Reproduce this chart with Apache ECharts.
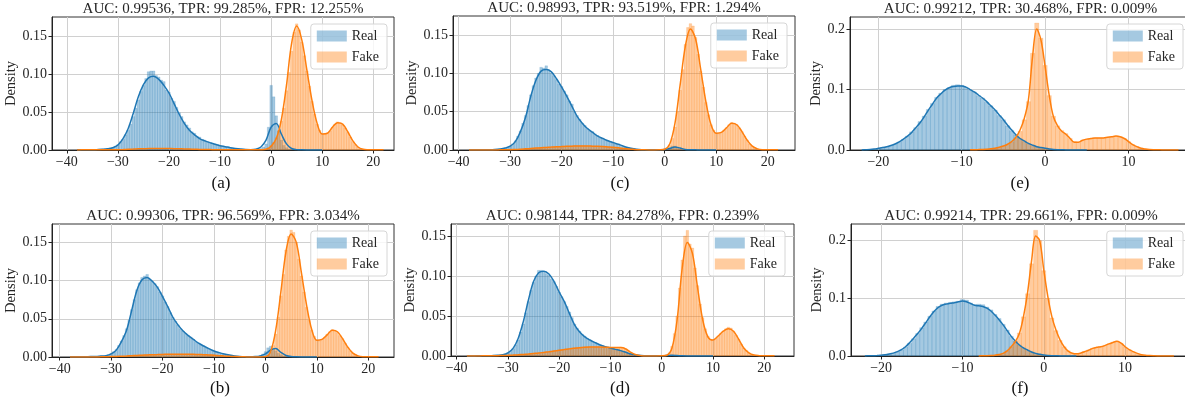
<!DOCTYPE html>
<html><head><meta charset="utf-8">
<script src="https://cdn.jsdelivr.net/npm/echarts@6/dist/echarts.min.js"></script>
<style>html,body{margin:0;padding:0;background:#fff}#c{width:1185px;height:402px}</style>
</head><body><div id="c"></div><script>
// ---------- text ----------
const titles = ['AUC: 0.99536, TPR: 99.285%, FPR: 12.255%','AUC: 0.99306, TPR: 96.569%, FPR: 3.034%','AUC: 0.98993, TPR: 93.519%, FPR: 1.294%','AUC: 0.98144, TPR: 84.278%, FPR: 0.239%','AUC: 0.99212, TPR: 30.468%, FPR: 0.009%','AUC: 0.99214, TPR: 29.661%, FPR: 0.009%'];
const captions = ['(a)','(b)','(c)','(d)','(e)','(f)'];
const seriesNames = ['Real','Fake'];
const xTicksWide = [-40,-30,-20,-10,0,10,20];
const xTicksNarrow = [-20,-10,0,10];
const yTicksFine = [0,0.05,0.10,0.15];
const yTicksCoarse = [0,0.1,0.2];
const BIN = 0.5;

// ---------- (a) ----------
const aRealHistStart = -34;
const aRealHist = [0.0005,0.001,0.0012,0.0015,0.002,0.0025,0.003,0.005,0.007,0.011,
 0.014,0.02,0.026,0.034,0.044,0.055,0.066,0.077,0.085,0.094,
 0.103,0.104,0.104,0.098,0.096,0.092,0.09,0.079,0.076,0.068,
 0.064,0.056,0.049,0.044,0.037,0.033,0.029,0.024,0.022,0.018,
 0.017,0.014,0.013,0.011,0.01,0.009,0.008,0.007,0.006,0.005,
 0.0045,0.004,0.003,0.0025,0.002,0.0015,0.001,0.0008,0.0005,0.0003,
 0.0002,0.0002,0.0004,0.0008,0.002,0.004,0.008,0.03,0.085,0.07,
 0.045,0.025,0.013,0.006,0.003,0.001,0.0005];
const aFakeHistStart = -1.5;
const aFakeHist = [0.0005,0.001,0.003,0.006,0.01,0.016,0.026,0.038,0.055,0.078,
 0.102,0.13,0.155,0.166,0.158,0.142,0.124,0.104,0.084,0.064,
 0.047,0.034,0.026,0.021,0.02,0.022,0.025,0.03,0.034,0.037,
 0.036,0.033,0.029,0.023,0.017,0.011,0.007,0.004,0.002,0.001,0.0005];
const aRealKdeStart = -38;
const aRealKde = [0.0002,0.0002,0.0003,0.0004,0.0006,0.0009,0.0015,0.003,0.0066,0.015,
 0.028,0.048,0.07,0.086,0.095,0.097,0.093,0.085,0.075,0.061,
 0.047,0.035,0.026,0.02,0.015,0.012,0.0097,0.0075,0.0057,0.0044,
 0.003,0.002,0.0012,0.0006,0.0004,0.001,0.004,0.013,0.03,0.035,
 0.021,0.008,0.002,0.0005,0.0002,0.0001,0.0001,0.0001,0.0001];
const aFakeKdeStart = -38;
const aFakeKde = [0.0001,0.0002,0.0002,0.0002,0.0002,0.0002,0.0002,0.0002,0.0004,0.0006,
 0.0009,0.0012,0.0015,0.0017,0.0019,0.002,0.002,0.002,0.0019,0.0018,
 0.0016,0.0014,0.0012,0.001,0.0008,0.0006,0.0005,0.0004,0.0003,0.0002,
 0.0002,0.0002,0.0002,0.0002,0.0002,0.0002,0.0003,0.001,0.005,0.015,
 0.04,0.085,0.14,0.163,0.145,0.105,0.065,0.035,0.021,0.022,
 0.03,0.036,0.034,0.024,0.012,0.004,0.001,0.0004,0.0003,0.0002,0.0002];

// ---------- (b) ----------
const bRealHistStart = -32;
const bRealHist = [0.0008,0.0012,0.002,0.003,0.0045,0.007,0.01,0.015,0.021,0.028,
 0.037,0.048,0.062,0.075,0.088,0.097,0.104,0.106,0.108,0.102,
 0.099,0.096,0.092,0.085,0.08,0.072,0.066,0.058,0.052,0.047,
 0.042,0.037,0.034,0.031,0.028,0.026,0.023,0.02,0.018,0.016,
 0.0145,0.012,0.011,0.009,0.008,0.0065,0.0055,0.0045,0.0038,0.003,
 0.0024,0.0018,0.0013,0.0009,0.0006,0.0004,0.0003,0.0002,0.0002,0.0003,
 0.0005,0.001,0.002,0.004,0.007,0.012,0.014,0.011,0.008,0.005,
 0.003,0.0015,0.0008];
const bFakeHistLowStart = -28;
const bFakeHistLow = [0.0008,0.001,0.0012,0.0014,0.0016,0.0018,0.002,0.0022,0.0024,0.0026,
 0.0028,0.003,0.0031,0.0032,0.0033,0.0034,0.0035,0.0036,0.0036,0.0037,
 0.0037,0.0038,0.0038,0.0038,0.0038,0.0037,0.0037,0.0036,0.0035,0.0034,
 0.0033,0.0031,0.003,0.0028,0.0026,0.0024,0.0022,0.002,0.0017,0.0015,
 0.0012,0.001,0.0008,0.0006,0.0004];
const bFakeHistStart = -0.5;
const bFakeHist = [0.0002,0.0006,0.002,0.006,0.015,0.03,0.052,0.08,0.108,0.14,
 0.158,0.166,0.163,0.15,0.128,0.106,0.085,0.065,0.048,0.035,
 0.027,0.022,0.021,0.023,0.026,0.03,0.033,0.036,0.035,0.032,
 0.028,0.024,0.018,0.013,0.008,0.005,0.003,0.0015,0.0008,0.0004];
const bRealKdeStart = -38;
const bRealKde = [0.0002,0.0002,0.0002,0.0003,0.0005,0.0008,0.0013,0.0018,0.004,0.009,
 0.02,0.035,0.061,0.087,0.101,0.104,0.099,0.091,0.079,0.066,
 0.052,0.042,0.034,0.028,0.023,0.018,0.0144,0.011,0.0079,0.0057,
 0.0039,0.0025,0.0014,0.0007,0.0003,0.0002,0.0005,0.0015,0.004,0.009,
 0.011,0.006,0.002,0.0005,0.0002,0.0001,0.0001,0.0001,0.0001];
const bFakeKdeStart = -38;
const bFakeKde = [0.0001,0.0001,0.0001,0.0001,0.0001,0.0001,0.0002,0.0003,0.0005,0.0007,
 0.001,0.0013,0.0017,0.002,0.0024,0.0027,0.003,0.0032,0.0034,0.0035,
 0.0036,0.0037,0.0037,0.0036,0.0035,0.0033,0.003,0.0027,0.0023,0.0018,
 0.0013,0.0009,0.0005,0.0003,0.0002,0.0001,0.0001,0.0001,0.0005,0.007,
 0.035,0.085,0.138,0.161,0.15,0.11,0.068,0.036,0.022,0.023,
 0.029,0.035,0.033,0.024,0.013,0.005,0.0015,0.0004,0.0002,0.0002,0.0002];

// ---------- (c) ----------
const cRealHistStart = -32.5;
const cRealHist = [0.0005,0.001,0.0015,0.002,0.003,0.005,0.008,0.012,0.018,0.025,
 0.035,0.045,0.058,0.072,0.084,0.094,0.1,0.108,0.107,0.11,
 0.104,0.1,0.097,0.092,0.086,0.083,0.077,0.072,0.064,0.06,
 0.05,0.045,0.04,0.035,0.032,0.028,0.025,0.024,0.021,0.019,
 0.016,0.015,0.013,0.012,0.011,0.0095,0.008,0.007,0.006,0.005,
 0.004,0.003,0.002,0.0015,0.001,0.0006,0.0003,0.0002,0.0001,0.0001,
 0.0001,0.0001,0.0001,0.0001,0.0001,0.0002,0.001,0.003,0.005,0.005,
 0.003,0.0015,0.0005];
const cFakeHistLowStart = -28;
const cFakeHistLow = [0.001,0.0012,0.0015,0.0018,0.002,0.0023,0.0026,0.003,0.003,0.0033,
 0.0036,0.0038,0.004,0.0042,0.0044,0.0046,0.0048,0.005,0.005,0.0052,
 0.0052,0.0054,0.0054,0.0055,0.0055,0.0054,0.0053,0.0052,0.005,0.0049,
 0.0047,0.0045,0.0043,0.004,0.0038,0.0035,0.0032,0.0028,0.0025,0.0022,
 0.0018,0.0014,0.001,0.0008,0.0005,0.0003,0.0002];
const cFakeHistStart = -0.5;
const cFakeHist = [0.0002,0.0005,0.002,0.006,0.015,0.03,0.05,0.078,0.105,0.138,
 0.16,0.165,0.162,0.147,0.125,0.103,0.082,0.062,0.046,0.033,
 0.026,0.022,0.021,0.023,0.026,0.029,0.033,0.036,0.035,0.033,
 0.029,0.024,0.018,0.013,0.008,0.005,0.003,0.0015,0.0008,0.0004];
const cRealKdeStart = -38;
const cRealKde = [0.0002,0.0002,0.0002,0.0003,0.0004,0.0007,0.0013,0.0025,0.005,0.011,
 0.024,0.043,0.07,0.091,0.103,0.105,0.102,0.093,0.082,0.07,
 0.057,0.044,0.035,0.028,0.023,0.018,0.015,0.012,0.0096,0.0074,
 0.005,0.003,0.0017,0.0008,0.0003,0.0002,0.0002,0.0003,0.0008,0.002,
 0.004,0.0025,0.0008,0.0003,0.0002,0.0001,0.0001,0.0001,0.0001];
const cFakeKdeStart = -38;
const cFakeKde = [0.0001,0.0001,0.0001,0.0001,0.0001,0.0001,0.0002,0.0003,0.0004,0.0007,
 0.001,0.0015,0.002,0.0025,0.003,0.0034,0.0038,0.0042,0.0045,0.0048,
 0.005,0.0052,0.0052,0.0052,0.005,0.0048,0.0045,0.004,0.0035,0.0028,
 0.002,0.0013,0.0008,0.0004,0.0002,0.0001,0.0001,0.0002,0.001,0.008,
 0.035,0.085,0.135,0.158,0.145,0.105,0.063,0.033,0.022,0.023,
 0.029,0.035,0.033,0.024,0.013,0.005,0.0015,0.0004,0.0002,0.0002,0.0002];

// ---------- (d) ----------
const dRealHistStart = -32;
const dRealHist = [0.0005,0.001,0.0015,0.0025,0.004,0.006,0.009,0.014,0.02,0.03,
 0.04,0.054,0.068,0.082,0.092,0.1,0.107,0.107,0.106,0.103,
 0.101,0.096,0.093,0.087,0.08,0.074,0.068,0.062,0.055,0.048,
 0.04,0.035,0.031,0.027,0.025,0.022,0.02,0.018,0.017,0.015,
 0.014,0.013,0.012,0.011,0.01,0.009,0.0085,0.0075,0.0068,0.0058,
 0.0047,0.0035,0.0025,0.0017,0.0012,0.0008,0.0005,0.0003,0.0002,0.0002,
 0.0002,0.0002,0.0002,0.0003,0.0004,0.0006,0.0008,0.001,0.001,0.0008,
 0.0005,0.0003];
const dFakeHistLowStart = -31;
const dFakeHistLow = [0.0005,0.0006,0.0008,0.001,0.0012,0.0014,0.0016,0.0018,0.002,0.0023,
 0.0026,0.0029,0.0032,0.0035,0.0038,0.0042,0.0046,0.005,0.0055,0.006,
 0.0065,0.007,0.0075,0.008,0.0085,0.009,0.0095,0.01,0.0104,0.0108,
 0.011,0.0112,0.0114,0.0115,0.0116,0.0116,0.0115,0.0114,0.0112,0.011,
 0.0108,0.0106,0.0105,0.0105,0.0106,0.0108,0.011,0.0105,0.009,0.0065,
 0.004,0.002,0.001,0.0005];
const dFakeHistStart = 0.5;
const dFakeHist = [0.0005,0.0015,0.004,0.012,0.028,0.05,0.085,0.12,0.15,0.157,
 0.14,0.135,0.11,0.088,0.065,0.048,0.034,0.025,0.021,0.02,
 0.022,0.025,0.028,0.031,0.034,0.036,0.035,0.031,0.026,0.021,
 0.015,0.01,0.007,0.004,0.002,0.001,0.0005,0.0003];
const dRealKdeStart = -38;
const dRealKde = [0.0001,0.0001,0.0002,0.0002,0.0003,0.0005,0.0008,0.0015,0.004,0.0096,
 0.022,0.043,0.07,0.093,0.104,0.106,0.1025,0.093,0.08,0.068,
 0.053,0.039,0.03,0.024,0.02,0.0167,0.0138,0.0117,0.01,0.0083,
 0.0067,0.0046,0.0025,0.0012,0.0005,0.0002,0.0002,0.0002,0.0003,0.0006,
 0.0008,0.0005,0.0002,0.0001,0.0001,0.0001,0.0001,0.0001,0.0001];
const dFakeKdeStart = -38;
const dFakeKde = [0.0001,0.0001,0.0001,0.0002,0.0002,0.0003,0.0004,0.0006,0.0008,0.0011,
 0.0015,0.002,0.0025,0.0031,0.0037,0.0045,0.0053,0.0062,0.0071,0.008,
 0.0089,0.0097,0.0104,0.0109,0.0112,0.0113,0.0112,0.0109,0.0106,0.0105,
 0.0105,0.0088,0.0045,0.0015,0.0004,0.0001,0.0001,0.0001,0.0002,0.001,
 0.01,0.045,0.11,0.142,0.128,0.085,0.045,0.024,0.02,0.025,
 0.031,0.034,0.031,0.021,0.01,0.004,0.0012,0.0004,0.0002,0.0002,0.0002];

// ---------- (e) ----------
const eRealHistStart = -21.5;
const eRealHist = [0.0003,0.0006,0.0012,0.0025,0.0038,0.0052,0.0072,0.0098,0.013,0.0175,
 0.023,0.03,0.037,0.047,0.056,0.067,0.077,0.087,0.094,0.1,
 0.103,0.107,0.108,0.107,0.104,0.099,0.096,0.09,0.086,0.079,
 0.073,0.066,0.057,0.05,0.04,0.032,0.025,0.019,0.014,0.01,
 0.0075,0.005,0.0035,0.0025,0.0015,0.0008,0.0004,0.0002];
const eFakeHistStart = -8;
const eFakeHist = [0.0006,0.0009,0.0013,0.0019,0.0028,0.0042,0.0062,0.009,0.013,0.02,
 0.031,0.05,0.08,0.16,0.21,0.185,0.14,0.09,0.056,0.04,
 0.032,0.027,0.019,0.014,0.013,0.016,0.018,0.019,0.02,0.02,
 0.02,0.021,0.022,0.023,0.022,0.019,0.014,0.009,0.0055,0.003,
 0.0015,0.0008,0.0004];
const eRealKdeStart = -22;
const eRealKde = [0.0002,0.0004,0.0007,0.0015,0.0028,0.004,0.0055,0.0075,0.01,0.0135,
 0.018,0.023,0.029,0.037,0.045,0.055,0.066,0.076,0.086,0.093,
 0.099,0.103,0.105,0.106,0.106,0.104,0.1,0.096,0.091,0.086,
 0.08,0.073,0.066,0.058,0.05,0.041,0.033,0.025,0.019,0.015,
 0.011,0.008,0.0055,0.004,0.0028,0.0018,0.001,0.0006,0.0004,0.0002,
 0.0001,0.0001,0.0001,0.0001,0.0001];
const eFakeKdeStart = -9;
const eFakeKde = [0.0003,0.0005,0.0007,0.001,0.0014,0.002,0.003,0.0045,0.0065,0.0095,
 0.014,0.021,0.033,0.052,0.083,0.155,0.2,0.182,0.138,0.09,
 0.055,0.04,0.031,0.026,0.019,0.013,0.013,0.016,0.018,0.019,
 0.02,0.02,0.02,0.021,0.022,0.023,0.022,0.019,0.014,0.009,
 0.0055,0.003,0.0017,0.0009,0.0005,0.0003,0.0002,0.0001,0.0001,0.0001,0.0001];

// ---------- (f) ----------
const fRealHistStart = -21;
const fRealHist = [0.0004,0.0007,0.0011,0.002,0.0033,0.0048,0.0072,0.0105,0.0155,0.022,
 0.03,0.039,0.049,0.059,0.069,0.078,0.086,0.09,0.092,0.093,
 0.094,0.095,0.098,0.097,0.092,0.089,0.09,0.089,0.085,0.08,
 0.072,0.065,0.055,0.045,0.034,0.026,0.019,0.014,0.01,0.007,
 0.0045,0.003,0.0017,0.001,0.0005,0.0003];
const fFakeHistStart = -7;
const fFakeHist = [0.0004,0.0007,0.0012,0.0023,0.0045,0.0088,0.016,0.025,0.04,0.068,
 0.108,0.16,0.218,0.2,0.148,0.1,0.066,0.044,0.027,0.016,
 0.009,0.005,0.004,0.005,0.0078,0.0105,0.0135,0.015,0.0165,0.0185,
 0.021,0.024,0.026,0.022,0.0155,0.011,0.007,0.004,0.002,0.001,0.0005];
const fRealKdeStart = -22;
const fRealKde = [0.0002,0.0003,0.0005,0.0008,0.0012,0.0022,0.0035,0.005,0.0075,0.011,
 0.016,0.023,0.031,0.039,0.048,0.058,0.068,0.077,0.084,0.088,
 0.09,0.0915,0.0925,0.094,0.0954,0.094,0.091,0.088,0.087,0.086,
 0.083,0.078,0.071,0.063,0.054,0.044,0.034,0.026,0.019,0.014,
 0.0104,0.007,0.0046,0.003,0.0017,0.001,0.0006,0.0004,0.0002,0.0001,
 0.0001,0.0001,0.0001];
const fFakeKdeStart = -8;
const fFakeKde = [0.0002,0.0003,0.0005,0.0008,0.0013,0.0025,0.0046,0.009,0.016,0.025,
 0.039,0.068,0.109,0.165,0.208,0.2,0.149,0.103,0.068,0.045,
 0.028,0.016,0.0085,0.0048,0.0038,0.0048,0.0075,0.01,0.0133,0.015,
 0.016,0.018,0.021,0.0235,0.0254,0.0225,0.016,0.011,0.0075,0.0045,
 0.0023,0.0012,0.0007,0.0004,0.0002,0.0002,0.0001,0.0001,0.0001];

// ---------- layout (positions / styles kept separate) ----------
const FONT = '"Liberation Serif", "Times New Roman", serif';
const TXT = '#262626';
const C_REAL = '#1f77b4', C_FAKE = '#ff7f0e';
const F_REAL = 'rgba(31,119,180,0.4)', F_FAKE = 'rgba(255,127,14,0.4)';
const S_REAL = 'rgba(31,119,180,0.3)', S_FAKE = 'rgba(255,127,14,0.3)';

const panels = [
 {grid:{left:52,top:17,width:342,height:133}, x:[-42.9,24.05], yMax:0.175, xt:xTicksWide, yt:yTicksFine, dec:2, gap:31, cap:[221,184],
  real:[[aRealHistStart,aRealHist]], fake:[[aFakeHistStart,aFakeHist]], rk:[aRealKdeStart,1,aRealKde], fk:[aFakeKdeStart,1,aFakeKde], legRight:798},
 {grid:{left:52,top:224,width:342,height:133}, x:[-41.5,25.0], yMax:0.174, xt:xTicksWide, yt:yTicksFine, dec:2, gap:31, cap:[220,389],
  real:[[bRealHistStart,bRealHist]], fake:[[bFakeHistLowStart,bFakeHistLow],[bFakeHistStart,bFakeHist]], rk:[bRealKdeStart,1,bRealKde], fk:[bFakeKdeStart,1,bFakeKde], legRight:798},
 {grid:{left:453,top:16,width:342,height:134}, x:[-41.1,25.3], yMax:0.175, xt:xTicksWide, yt:yTicksFine, dec:2, gap:31, cap:[620,184],
  real:[[cRealHistStart,cRealHist]], fake:[[cFakeHistLowStart,cFakeHistLow],[cFakeHistStart,cFakeHist]], rk:[cRealKdeStart,1,cRealKde], fk:[cFakeKdeStart,1,cFakeKde], legRight:398},
 {grid:{left:451,top:224,width:343,height:132}, x:[-41.1,25.8], yMax:0.165, xt:xTicksWide, yt:yTicksFine, dec:2, gap:31, cap:[620,389],
  real:[[dRealHistStart,dRealHist]], fake:[[dFakeHistLowStart,dFakeHistLow],[dFakeHistStart,dFakeHist]], rk:[dRealKdeStart,1,dRealKde], fk:[dFakeKdeStart,1,dFakeKde], legRight:400},
 {grid:{left:850,top:17,width:341,height:133}, x:[-23.4,17.5], yMax:0.22, xt:xTicksNarrow, yt:yTicksCoarse, dec:1, gap:24, cap:[1020,184],
  real:[[eRealHistStart,eRealHist]], fake:[[eFakeHistStart,eFakeHist]], rk:[eRealKdeStart,0.5,eRealKde], fk:[eFakeKdeStart,0.5,eFakeKde], legRight:2},
 {grid:{left:851,top:224,width:340,height:132}, x:[-23.7,18.1], yMax:0.229, xt:xTicksNarrow, yt:yTicksCoarse, dec:1, gap:25, cap:[1020,389],
  real:[[fRealHistStart,fRealHist]], fake:[[fFakeHistStart,fFakeHist]], rk:[fRealKdeStart,0.5,fRealKde], fk:[fFakeKdeStart,0.5,fFakeKde], legRight:2}
];

function histData(segs){
  const out = [];
  segs.forEach(([start, vals]) => vals.forEach((v,i) => {
    const c = start + i*BIN; out.push([c - BIN/2, c + BIN/2, v]);
  }));
  return out;
}
function kdeData([start, step, vals]){ return vals.map((v,i) => [start + i*step, v]); }
function fmtX(v){ return v < 0 ? '\u2212' + Math.abs(v) : String(v); }

function histSeries(name, segs, idx, fill, stroke){
  return {
    type:'custom', name, xAxisIndex:idx, yAxisIndex:idx, coordinateSystem:'cartesian2d', clip:true, z:2, silent:true,
    itemStyle:{color:fill},
    encode:{x:[0,1], y:2},
    data: histData(segs),
    renderItem(params, api){
      const p0 = api.coord([api.value(0), api.value(2)]);
      const p1 = api.coord([api.value(1), 0]);
      return {type:'rect', shape:{x:p0[0], y:p0[1], width:p1[0]-p0[0], height:p1[1]-p0[1]},
        style:{fill:fill, stroke:stroke, lineWidth:0.5}};
    }
  };
}
function kdeSeries(name, kd, idx, color){
  return {type:'line', name, xAxisIndex:idx, yAxisIndex:idx, data:kdeData(kd), smooth:0.35, showSymbol:false, symbol:'none',
    lineStyle:{color, width:1.5}, itemStyle:{color}, z:3, silent:true};
}

const grids=[], xAxes=[], yAxes=[], series=[], legends=[], graphics=[];
panels.forEach((p, i) => {
  grids.push(Object.assign({show:true, borderColor:'#333', borderWidth:1, backgroundColor:'transparent', containLabel:false, outerBoundsMode:'none'}, p.grid));
  xAxes.push({type:'value', gridIndex:i, min:p.x[0], max:p.x[1],
    axisLine:{show:true, onZero:false, lineStyle:{color:'#222', width:1}},
    axisTick:{show:true, customValues:p.xt, length:3.5, lineStyle:{color:'#222'}},
    axisLabel:{customValues:p.xt, formatter:fmtX, fontFamily:FONT, fontSize:14, color:TXT, margin:5},
    splitLine:{show:true, lineStyle:{color:'#d0d0d0', width:1}}});
  yAxes.push({type:'value', gridIndex:i, min:0, max:p.yMax, name:'Density', nameLocation:'middle', nameGap:p.gap, nameRotate:90,
    nameTextStyle:{fontFamily:FONT, fontSize:14.5, color:TXT},
    axisLine:{show:true, onZero:false, lineStyle:{color:'#222', width:1}},
    axisTick:{show:true, customValues:p.yt, length:3.5, lineStyle:{color:'#222'}},
    axisLabel:{customValues:p.yt, formatter:v => v.toFixed(p.dec), fontFamily:FONT, fontSize:14, color:TXT, margin:5},
    splitLine:{show:true, lineStyle:{color:'#d0d0d0', width:1}}});
  series.push(histSeries(seriesNames[0], p.real, i, F_REAL, S_REAL));
  series.push(kdeSeries(seriesNames[0]+' KDE', p.rk, i, C_REAL));
  series.push(histSeries(seriesNames[1], p.fake, i, F_FAKE, S_FAKE));
  series.push(kdeSeries(seriesNames[1]+' KDE', p.fk, i, C_FAKE));
  legends.push({show:true, orient:'vertical', right:p.legRight, top:p.grid.top+7, selectedMode:false,
    data:[{name:seriesNames[0], icon:'rect', itemStyle:{color:F_REAL, borderWidth:0}}, {name:seriesNames[1], icon:'rect', itemStyle:{color:F_FAKE, borderWidth:0}}],
    itemWidth:30, itemHeight:11, itemGap:7, padding:[5,8,5,6],
    backgroundColor:'rgba(255,255,255,0.8)', borderColor:'#d6d6d6', borderWidth:1, borderRadius:3,
    textStyle:{fontFamily:FONT, fontSize:14, color:TXT}});
  const cx = p.grid.left + p.grid.width/2;
  const ty = p.grid.top - 8;
  graphics.push({type:'text', x:cx, y:ty, z:10, style:{text:titles[i], fontFamily:FONT, fontSize:15, fill:TXT, align:'center', verticalAlign:'middle'}});
  graphics.push({type:'text', x:p.cap[0], y:p.cap[1], z:10, style:{text:captions[i], fontFamily:FONT, fontSize:17, fill:'#111', align:'center', verticalAlign:'middle'}});
});

const chart = echarts.init(document.getElementById('c'), null, {renderer:'canvas'});
chart.setOption({animation:false, backgroundColor:'#fff', grid:grids, xAxis:xAxes, yAxis:yAxes, series, legend:legends, graphic:graphics, tooltip:{show:false}});
</script></body></html>
